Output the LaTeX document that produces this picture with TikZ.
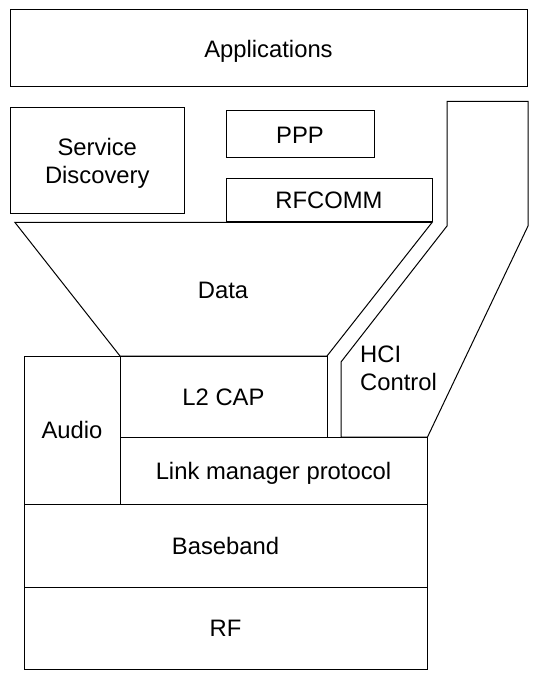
\documentclass[tikz,border=0pt]{standalone}
\usepackage{fontspec}
\setmainfont{Liberation Sans}
\begin{document}
\begin{tikzpicture}[x=1pt,y=-1pt,
  lay/.style={draw=black,line width=1pt,inner sep=0pt,font=\fontsize{23.8}{27.5}\selectfont,text height=17.1pt,text depth=0pt},
  shp/.style={draw=black,line width=1pt,line join=miter},
  lbl/.style={inner sep=0pt,font=\fontsize{23.8}{28}\selectfont,align=center}]
\useasboundingbox (0,0) rectangle (544,684);
\node[lay,minimum width=517pt,minimum height=77pt] (app) at (268.5,48.5) {Applications};
\node[draw=black,line width=1pt,minimum width=173.5pt,minimum height=106pt] (sd) at (97.25,161) {};
\node[lbl] (sdt) at (97.25,163.5) {Service\\Discovery};
\node[lay,minimum width=148pt,minimum height=47pt] (ppp) at (300,134.5) {PPP};
\node[lay,minimum width=206pt,minimum height=43pt] (rfc) at (329,200) {RFCOMM};
% Data funnel
\coordinate (d1) at (15,222.5);
\coordinate (d2) at (432,222.5);
\coordinate (d3) at (327,356);
\coordinate (d4) at (120,356);
\draw[shp] (d1) -- (d2) -- (d3) -- (d4) -- cycle;
\node[lbl] (data) at (223,290) {Data};
% HCI control
\coordinate (h1) at (447,101.5);
\coordinate (h2) at (528,101.5);
\coordinate (h3) at (528,226);
\coordinate (h4) at (427.5,437);
\coordinate (h5) at (341,437);
\coordinate (h6) at (341,362);
\coordinate (h7) at (447,226);
\draw[shp] (h1) -- (h2) -- (h3) -- (h4) -- (h5) -- (h6) -- (h7) -- cycle;
\node[lbl,align=left,anchor=west] (hci) at (360,368.5) {HCI\\Control};
% lower stack
\node[lay,minimum width=96pt,minimum height=148pt] (audio) at (72,430) {Audio};
\node[lay,minimum width=207pt,minimum height=81pt] (l2) at (223.5,396.5) {L2 CAP};
\node[lay,minimum width=307pt,minimum height=67pt] (lmp) at (273.5,470.5) {Link manager protocol};
\node[lay,minimum width=403pt,minimum height=83pt] (bb) at (225.5,545.5) {Baseband};
\node[lay,minimum width=403pt,minimum height=82pt] (rf) at (225.5,628) {RF};
\end{tikzpicture}
\end{document}
